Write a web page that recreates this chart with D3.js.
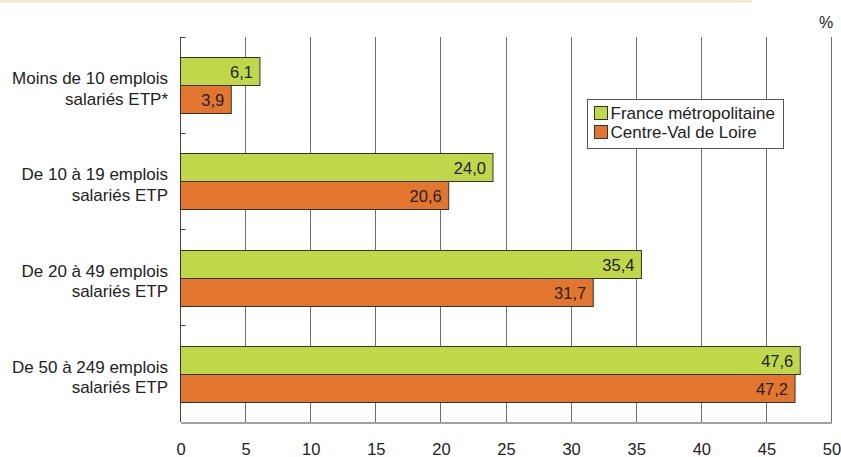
<!DOCTYPE html>
<html>
<head>
<meta charset="utf-8">
<script src="https://cdn.jsdelivr.net/npm/d3@7"></script>
<style>
  body { margin: 0; background: #fff; }
  svg { display: block; font-family: "Liberation Sans", Arial, sans-serif; }
</style>
</head>
<body>
<svg width="841" height="457"></svg>
<script>
// categories (two lines each) and series
const categories = [
  ['Moins de 10 emplois', 'salariés ETP*'],
  ['De 10 à 19 emplois', 'salariés ETP'],
  ['De 20 à 49 emplois', 'salariés ETP'],
  ['De 50 à 249 emplois', 'salariés ETP']
];
const series = ['France métropolitaine', 'Centre-Val de Loire'];
const franceValues = [6.1, 24.0, 35.4, 47.6];
const centreValues = [3.9, 20.6, 31.7, 47.2];
const xTicks = [0, 5, 10, 15, 20, 25, 30, 35, 40, 45, 50];

const colors = { 'France métropolitaine': '#bfd84a', 'Centre-Val de Loire': '#e2762f' };

const svg = d3.select('svg');
const plotLeft = 180.5, plotRight = 831.5, plotTop = 37, plotBottom = 422;
const px = v => Math.floor(v) + 0.5;

// faint header strip (cut off title area)
svg.append('rect').attr('x', 0).attr('y', 0).attr('width', 752).attr('height', 3).attr('fill', '#fbe9d8');

const catKeys = categories.map(c => c.join(' '));
const x = d3.scaleLinear().domain([0, 50]).range([plotLeft, plotRight]);
const y0 = d3.scaleBand().domain(catKeys).range([plotTop, plotBottom]).padding(0);
const y1 = d3.scaleBand().domain(series).range([0, y0.bandwidth()]).paddingInner(0).paddingOuter(0.72);

// vertical grid lines
svg.append('g')
  .selectAll('line')
  .data(xTicks.slice(1))
  .enter().append('line')
  .attr('x1', d => px(x(d))).attr('x2', d => px(x(d)))
  .attr('y1', plotTop).attr('y2', plotBottom)
  .attr('stroke', '#6e6e6e').attr('stroke-width', 1);

// bottom axis
const xAxis = svg.append('g')
  .attr('transform', `translate(0, ${plotBottom + 0.5})`)
  .call(d3.axisBottom(x).tickValues(xTicks).tickSize(0).tickPadding(21));
xAxis.select('.domain').attr('stroke', '#444');
xAxis.selectAll('.tick text')
  .attr('font-size', 16.5).attr('fill', '#222')
  .attr('font-family', '"Liberation Sans", Arial, sans-serif');

// left axis line + boundary ticks
svg.append('line')
  .attr('x1', px(plotLeft)).attr('x2', px(plotLeft))
  .attr('y1', plotTop).attr('y2', plotBottom)
  .attr('stroke', '#444');
svg.append('g')
  .selectAll('line')
  .data(catKeys.map(k => y0(k)))
  .enter().append('line')
  .attr('x1', plotLeft).attr('x2', plotLeft + 5)
  .attr('y1', d => px(d)).attr('y2', d => px(d))
  .attr('stroke', '#444');

// bars
const rows = catKeys.map((k, i) => ({ key: k, values: [franceValues[i], centreValues[i]] }));
const groups = svg.append('g')
  .selectAll('g')
  .data(rows)
  .enter().append('g')
  .attr('transform', d => `translate(0, ${Math.round(y0(d.key))})`);

groups.selectAll('rect')
  .data(d => d.values.map((v, j) => ({ s: series[j], v: v })))
  .enter().append('rect')
  .attr('x', px(plotLeft))
  .attr('y', d => Math.round(y1(d.s)) + 0.5)
  .attr('width', d => x(d.v) - px(plotLeft))
  .attr('height', Math.round(y1.bandwidth()))
  .attr('fill', d => colors[d.s])
  .attr('stroke', '#333')
  .attr('stroke-width', 1);

groups.selectAll('text.value')
  .data(d => d.values.map((v, j) => ({ s: series[j], v: v })))
  .enter().append('text')
  .attr('class', 'value')
  .attr('x', d => x(d.v) - 7)
  .attr('y', d => y1(d.s) + y1.bandwidth() / 2 + 7)
  .attr('text-anchor', 'end')
  .attr('font-size', 16.5)
  .attr('fill', '#222')
  .text(d => d.v.toFixed(1).replace('.', ','));

// category labels
svg.append('g')
  .selectAll('text')
  .data(categories)
  .enter().append('text')
  .attr('text-anchor', 'end')
  .attr('font-size', 17)
  .attr('fill', '#222')
  .each(function(d, i) {
    const cy = y0(catKeys[i]) + y0.bandwidth() / 2;
    d3.select(this).selectAll('tspan')
      .data(d)
      .enter().append('tspan')
      .attr('x', 168)
      .attr('y', (t, j) => cy - 1 + j * 20.5)
      .text(t => t);
  });

// unit
svg.append('text').attr('x', 826).attr('y', 28).attr('text-anchor', 'middle')
  .attr('font-size', 16).attr('fill', '#222').text('%');

// legend
const legend = svg.append('g').attr('transform', 'translate(587.5, 99.5)');
legend.append('rect').attr('width', 196).attr('height', 49)
  .attr('fill', '#fff').attr('stroke', '#555');
series.forEach((s, i) => {
  legend.append('rect').attr('x', 7).attr('y', 7 + i * 19).attr('width', 13).attr('height', 13)
    .attr('fill', colors[s]).attr('stroke', '#333');
  legend.append('text').attr('x', 23).attr('y', 19 + i * 19)
    .attr('font-size', 17).attr('fill', '#222').text(s);
});
</script>
</body>
</html>
